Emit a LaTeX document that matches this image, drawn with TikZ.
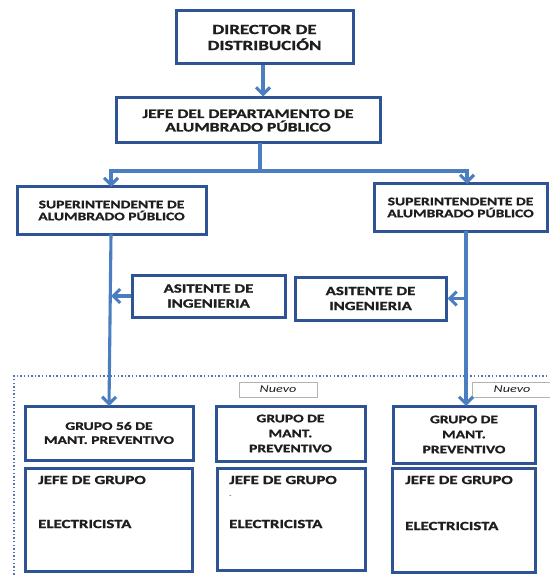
\documentclass[tikz,border=0pt]{standalone}
\usepackage{fontspec}
\setmainfont[FakeStretch=1.35, BoldFeatures={FakeBold=1.2}]{Carlito}
\usetikzlibrary{arrows.meta,calc}
\definecolor{boxblue}{RGB}{46,84,150}
\definecolor{arrblue}{RGB}{74,126,192}
\definecolor{dotblue}{RGB}{80,115,185}
\definecolor{txt}{RGB}{30,30,30}
\tikzset{
  orgbox/.style={draw=boxblue, line width=3pt, fill=white, align=center, text=txt, inner sep=2pt, font=\bfseries},
  arr/.style={draw=arrblue, line width=3.1pt, -{Straight Barb[length=7pt,width=14pt,line width=3.1pt]}},
  conn/.style={draw=arrblue, line width=3.1pt},
  newbox/.style={draw=black!30, line width=0.9pt, fill=white, text=txt, inner sep=0pt, font=\fontsize{10.5}{10.5}\selectfont\itshape},
  lbl/.style={anchor=west, text=txt, inner sep=0pt, font=\fontsize{12.5}{13}\selectfont\bfseries}
}
\begin{document}
\begin{tikzpicture}[x=1pt,y=-1pt]
\useasboundingbox (0,0) rectangle (549,577);
\fill[white] (0,0) rectangle (549,577);
% dotted region
\draw[dotblue, line width=2.2pt, dash pattern=on 1.4pt off 2.2pt] (14,600) -- (14,376) -- (560,376);
% boxes
\node[orgbox, minimum width=177pt, minimum height=53pt, font=\fontsize{14}{16}\selectfont\bfseries] (dir) at (264.5,37.5) {DIRECTOR DE\\DISTRIBUCIÓN};
\node[orgbox, minimum width=264pt, minimum height=45pt, font=\fontsize{13}{13.5}\selectfont\bfseries] (jefe) at (248,120.5) {JEFE DEL DEPARTAMENTO DE\\ALUMBRADO PÚBLICO};
\node[orgbox, minimum width=189pt, minimum height=47pt, font=\fontsize{11.5}{12}\selectfont\bfseries] (supL) at (111.5,210.5) {SUPERINTENDENTE DE\\ALUMBRADO PÚBLICO};
\node[orgbox, minimum width=173pt, minimum height=47pt, font=\fontsize{11.5}{12}\selectfont\bfseries] (supR) at (460.5,207.5) {SUPERINTENDENTE DE\\ALUMBRADO PÚBLICO};
\node[orgbox, minimum width=153pt, minimum height=42pt, font=\fontsize{12.5}{15}\selectfont\bfseries] (asiL) at (208.5,296) {ASITENTE DE\\INGENIERIA};
\node[orgbox, minimum width=151pt, minimum height=43pt, font=\fontsize{12.5}{15}\selectfont\bfseries] (asiR) at (370.5,298.5) {ASITENTE DE\\INGENIERIA};
% nuevo labels
\node[newbox, minimum width=78pt, minimum height=15pt] (nv1) at (278,389.5) {Nuevo};
\node[newbox, minimum width=80pt, minimum height=15pt] (nv2) at (512,389.5) {Nuevo};
% groups
\node[orgbox, minimum width=168pt, minimum height=54pt, font=\fontsize{11.5}{14}\selectfont\bfseries] (g1) at (109,433) {GRUPO 56 DE\\MANT. PREVENTIVO};
\node[orgbox, minimum width=149pt, minimum height=55pt, font=\fontsize{11.5}{15}\selectfont\bfseries] (g2) at (290.5,433.5) {GRUPO DE\\MANT.\\PREVENTIVO};
\node[orgbox, minimum width=142pt, minimum height=57pt, font=\fontsize{11.5}{15}\selectfont\bfseries] (g3) at (464,434.5) {GRUPO DE\\MANT.\\PREVENTIVO};
\node[orgbox, minimum width=167pt, minimum height=103pt] (l1) at (108.5,519.5) {};
\node[orgbox, minimum width=148pt, minimum height=102pt] (l2) at (291,519) {};
\node[orgbox, minimum width=143pt, minimum height=104pt] (l3) at (463.5,520) {};
\node[lbl] (j1) at (38,480) {JEFE DE GRUPO};
\node[lbl] (e1) at (38,524) {ELECTRICISTA};
\node[lbl] (j2) at (229,480) {JEFE DE GRUPO};
\node[lbl, font=\fontsize{6}{6}\selectfont] (d2) at (229,497) {-};
\node[lbl] (e2) at (229,524) {ELECTRICISTA};
\node[lbl] (j3) at (405,480) {JEFE DE GRUPO};
\node[lbl] (e3) at (405,526) {ELECTRICISTA};
% connectors
\coordinate (jb) at (260,143);
\coordinate (hj) at (260,171);
\coordinate (hl) at (111,171);
\coordinate (hr) at (467,171);
\coordinate (sl) at (111,187);
\coordinate (sr) at (467,184);
\coordinate (rb) at (466,231);
\coordinate (rg) at (466,406);
\coordinate (lb) at (111,234);
\coordinate (lg) at (109,406);
\draw[arr] (dir.south -| 263,0) -- (jefe.north -| 263,0);
\draw[conn] (jb) -- (hj);
\draw[conn, line cap=rect] (hl) -- (hr);
\draw[arr] (hl) -- (sl);
\draw[arr] (hr) -- (sr);
\draw[arr] (lb) -- (lg);
\draw[arr] (rb) -- (rg);
\draw[arr] (asiL.west) -- (asiL.west -| lb);
\draw[arr] (asiR.east -| rb) -- (asiR.east);
\end{tikzpicture}
\end{document}
